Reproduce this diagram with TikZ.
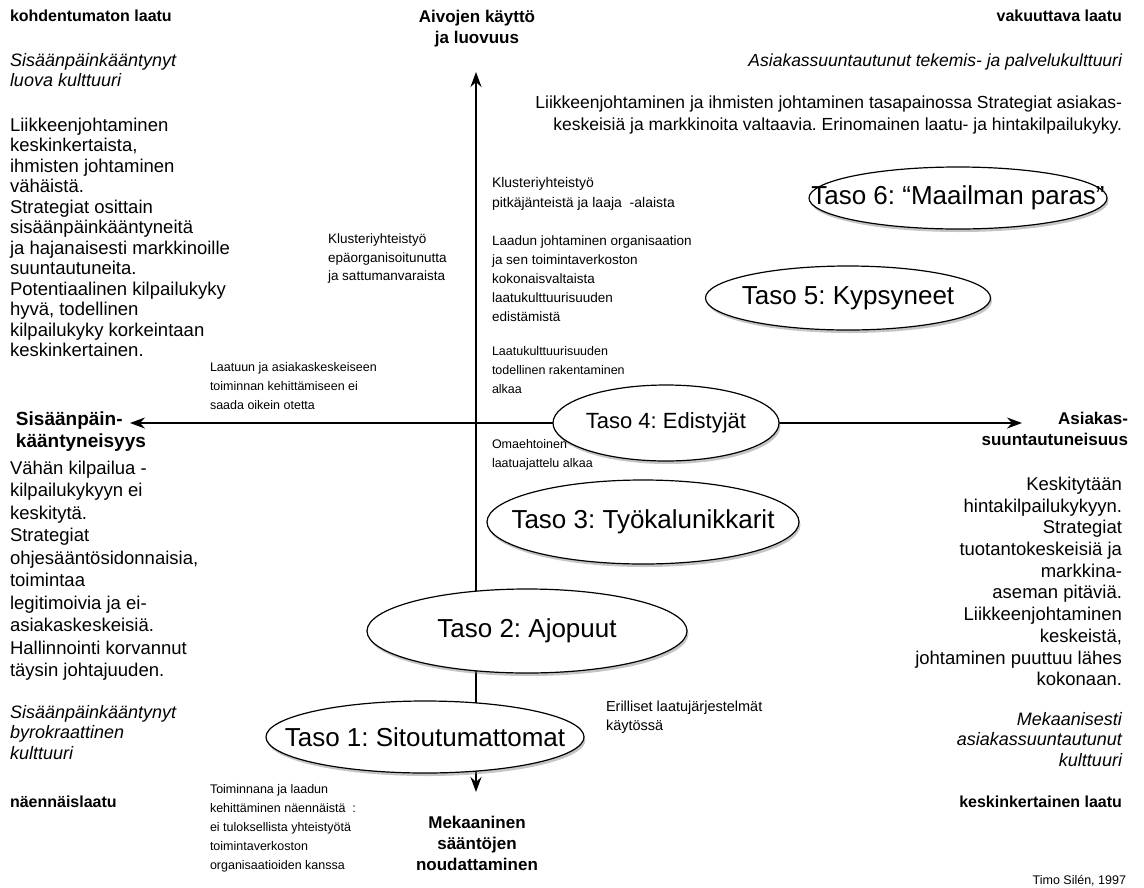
\documentclass[tikz,border=0pt]{standalone}
\usepackage{fontspec}
\setmainfont{Liberation Sans}
\usetikzlibrary{shapes.geometric,arrows.meta,shadows}
\frenchspacing
\newcommand{\zw}[1]{\makebox[0pt]{#1}}
\begin{document}
\begin{tikzpicture}[x=1pt,y=-1pt,
  every node/.style={inner sep=0pt, outer sep=0pt},
  body/.style={font=\fontsize{18.5}{21.5}\selectfont, align=left},
  bodyr/.style={font=\fontsize{18.5}{21.7}\selectfont, align=right},
  ital/.style={font=\fontsize{18}{20.5}\selectfont\itshape, align=left},
  italr/.style={font=\fontsize{18}{20.5}\selectfont\itshape, align=right},
  corner/.style={font=\fontsize{16}{20}\selectfont\bfseries},
  axlbl/.style={font=\fontsize{17}{21}\selectfont\bfseries},
  note/.style={font=\fontsize{12.5}{19}\selectfont, align=left},
  level/.style={ellipse, draw, line width=1.2pt, fill=white,
    font=\fontsize{26}{30}\selectfont,
    drop shadow={shadow xshift=1.5pt, shadow yshift=-3pt, opacity=0.45}},
  axis/.style={line width=1.4pt, {Stealth[length=15pt,width=11pt]}-{Stealth[length=15pt,width=11pt]}}
]
\useasboundingbox (0,0) rectangle (1144,887);
\fill[white] (0,0) rectangle (1144,887);

% axes
\coordinate (top) at (476,72);
\coordinate (bottom) at (476,792);
\coordinate (left) at (130,423);
\coordinate (right) at (1022,423);
\draw[axis] (left) -- (right);
\draw[axis] (bottom) -- (top);

% levels
\node[level, minimum width=298pt, minimum height=62pt] (t6) at (958,198) {\zw{Taso 6: “Maailman paras”}};
\node[level, minimum width=285pt, minimum height=64pt] (t5) at (848,298) {\zw{Taso 5: Kypsyneet}};
\node[level, minimum width=226pt, minimum height=76pt, font=\fontsize{22}{26}\selectfont] (t4) at (666,423) {\zw{Taso 4: Edistyjät}};
\node[level, minimum width=312pt, minimum height=84pt] (t3) at (643,522) {\zw{Taso 3: Työkalunikkarit}};
\node[level, minimum width=320pt, minimum height=84pt] (t2) at (527,631) {\zw{Taso 2: Ajopuut}};
\node[level, minimum width=318pt, minimum height=72pt] (t1) at (425,737) {\zw{Taso 1: Sitoutumattomat}};

% axis labels
\node[axlbl, align=center, anchor=north] (up) at (477,10) {Aivojen käyttö\\ja luovuus};
\node[axlbl, align=center, anchor=north] (down) at (477,816) {Mekaaninen\\sääntöjen\\noudattaminen};
\node[axlbl, font=\fontsize{19}{22}\selectfont\bfseries, align=left, anchor=north west] (lefttxt) at (16,412) {Sisäänpäin-\\kääntyneisyys};
\node[axlbl, align=right, anchor=north east] (righttxt) at (1128,412) {Asiakas-\\suuntautuneisuus};

% top left
\node[corner, anchor=north west] (tlq) at (10,9.5) {kohdentumaton laatu};
\node[ital, font=\fontsize{18}{19.5}\selectfont\itshape, anchor=north west] (tlc) at (10,53.5) {Sisäänpäinkääntynyt\\luova kulttuuri};
\node[body, font=\fontsize{18.5}{20.5}\selectfont, anchor=north west] (tlb) at (10,118) {Liikkeenjohtaminen\\keskinkertaista,\\ihmisten johtaminen\\vähäistä.\\Strategiat osittain\\sisäänpäinkääntyneitä\\ja hajanaisesti markkinoille\\suuntautuneita.\\Potentiaalinen kilpailukyky\\hyvä, todellinen\\kilpailukyky korkeintaan\\keskinkertainen.};

% bottom left
\node[body, font=\fontsize{18.5}{22.5}\selectfont, anchor=north west] (blb) at (10,461) {Vähän kilpailua -\\kilpailukykyyn ei\\keskitytä.\\Strategiat\\ohjesääntösidonnaisia,\\toimintaa\\legitimoivia ja ei-\\asiakaskeskeisiä.\\Hallinnointi korvannut\\täysin johtajuuden.};
\node[ital, anchor=north west] (blc) at (10,705) {Sisäänpäinkääntynyt\\byrokraattinen\\kulttuuri};
\node[corner, anchor=north west] (blq) at (10,795.5) {näennäislaatu};

% top right
\node[corner, anchor=north east] (trq) at (1122,9.5) {vakuuttava laatu};
\node[italr, font=\fontsize{17.5}{21.5}\selectfont\itshape, anchor=north east] (trc) at (1122,54) {Asiakassuuntautunut tekemis- ja palvelukulttuuri};
\node[bodyr, font=\fontsize{17.5}{21.5}\selectfont, anchor=north east] (trb) at (1122,96) {Liikkeenjohtaminen ja ihmisten johtaminen tasapainossa Strategiat asiakas-\\keskeisiä ja markkinoita valtaavia. Erinomainen laatu- ja hintakilpailukyky.};

% bottom right
\node[bodyr, anchor=north east] (brb) at (1122,477) {Keskitytään\\hintakilpailukykyyn.\\Strategiat\\tuotantokeskeisiä ja\\markkina-\\aseman pitäviä.\\Liikkeenjohtaminen\\keskeistä,\\johtaminen puuttuu lähes\\kokonaan.};
\node[italr, anchor=north east] (brc) at (1122,712) {Mekaanisesti\\asiakassuuntautunut\\kulttuuri};
\node[corner, anchor=north east] (brq) at (1122,795.5) {keskinkertainen laatu};
\node[note, anchor=north east] (auth) at (1126,875) {Timo Silén, 1997};

% notes
\node[note, font=\fontsize{13.5}{18.5}\selectfont, anchor=north west] (n1) at (328,234) {Klusteriyhteistyö\\epäorganisoitunutta\\ja sattumanvaraista};
\node[note, font=\fontsize{14}{20}\selectfont, anchor=north west] (n2) at (492,177) {Klusteriyhteistyö\\pitkäjänteistä ja laaja~~-alaista};
\node[note, font=\fontsize{13.5}{19}\selectfont, anchor=north west] (n3) at (492,236) {Laadun johtaminen organisaation\\ja sen toimintaverkoston\\kokonaisvaltaista\\laatukulttuurisuuden\\edistämistä};
\node[note, anchor=north west] (n4) at (492,346.5) {Laatukulttuurisuuden\\todellinen rakentaminen\\alkaa};
\node[note, anchor=north west] (n5) at (210,362) {Laatuun ja asiakaskeskeiseen\\toiminnan kehittämiseen ei\\saada oikein otetta};
\node[note, anchor=north west] (n6) at (492,439) {Omaehtoinen\\laatuajattelu alkaa};
\node[note, font=\fontsize{14.5}{18.5}\selectfont, anchor=north west] (n7) at (606,701) {Erilliset laatujärjestelmät\\käytössä};
\node[note, anchor=north west] (n8) at (210,784) {Toiminnana ja laadun\\kehittäminen näennäistä~~:\\ei tuloksellista yhteistyötä\\toimintaverkoston\\organisaatioiden kanssa};
\end{tikzpicture}
\end{document}
